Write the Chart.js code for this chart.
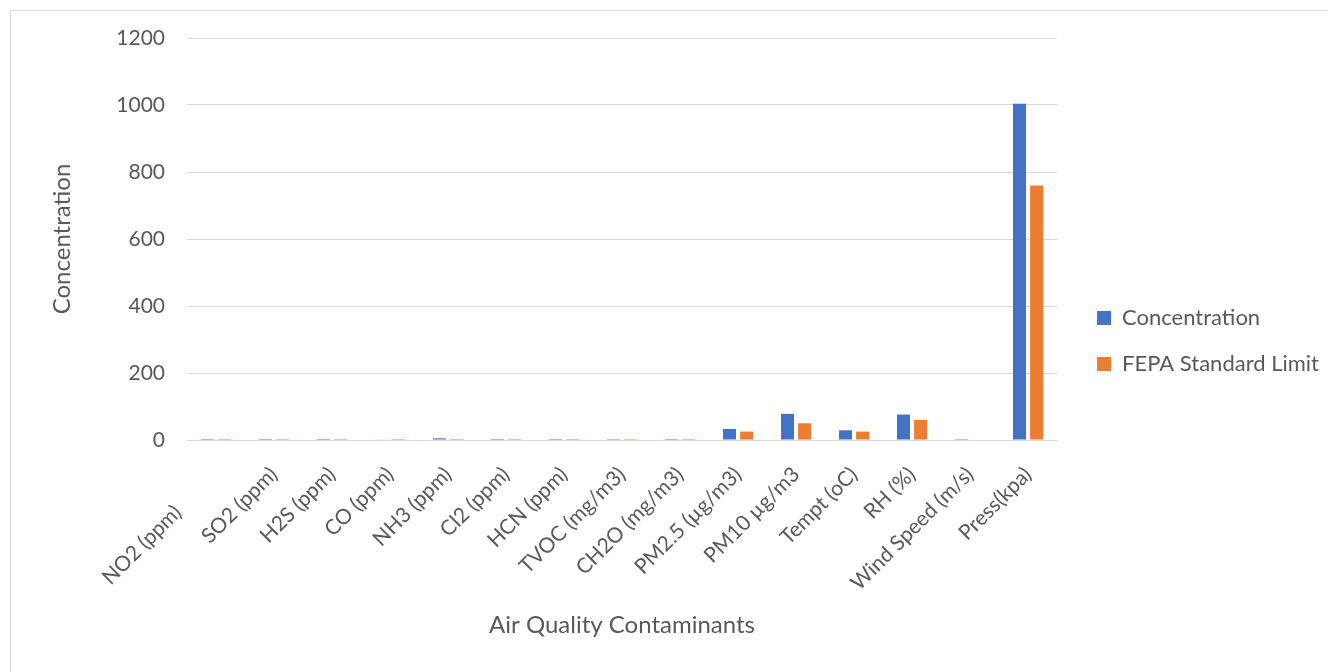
<!DOCTYPE html>
<html>
<head>
<meta charset="utf-8">
<script src="https://cdn.jsdelivr.net/npm/chart.js@4/dist/chart.umd.min.js"></script>
<style>
  html, body { margin: 0; padding: 0; background: #fff; }
  #wrap { position: relative; width: 1328px; height: 672px; }
  #frame { position: absolute; left: 10px; top: 10px; width: 1330px; height: 670px; border: 1px solid #d9d9d9; box-sizing: border-box; }
  canvas { position: absolute; left: 0; top: 0; }
</style>
</head>
<body>
<div id="wrap">
  <div id="frame"></div>
  <canvas id="c" width="1328" height="672"></canvas>
</div>
<script>
// Air quality readings against the FEPA limits
const categories = [
  'NO2 (ppm)', 'SO2 (ppm)', 'H2S (ppm)', 'CO (ppm)', 'NH3 (ppm)', 'Cl2 (ppm)',
  'HCN (ppm)', 'TVOC (mg/m3)', 'CH2O (mg/m3)', 'PM2.5 (µg/m3)', 'PM10 µg/m3',
  'Tempt (oC)', 'RH (%)', 'Wind Speed (m/s)', 'Press(kpa)'
];
const concentration = [0.04, 0.02, 0.01, 1.2, 5, 0.01, 0.01, 0.3, 0.02, 33, 78, 29, 76, 0.4, 1004];
const fepaLimit     = [0.04, 0.1, 0.1, 3, 3, 0.01, 0.01, 0.1, 0.03, 25, 50, 25, 60, 1.5, 760];
const yTicks = [0, 200, 400, 600, 800, 1000, 1200];

const textColor = '#595959';
const gridColor = '#d9d9d9';
const fontFamily = "Lato, 'Open Sans', sans-serif";

// Leave a wider gap between the plot and the legend entries
const legendGap = {
  id: 'legendGap',
  afterLayout(chart) {
    chart.legend.left += 16;
    chart.legend.right += 16;
  }
};

new Chart(document.getElementById('c'), {
  type: 'bar',
  data: {
    labels: categories,
    datasets: [
      { label: 'Concentration', data: concentration, backgroundColor: '#4472c4',
        categoryPercentage: 0.59, barPercentage: 0.76, inflateAmount: 0 },
      { label: 'FEPA Standard Limit', data: fepaLimit, backgroundColor: '#ed7d31',
        categoryPercentage: 0.59, barPercentage: 0.76, inflateAmount: 0 }
    ]
  },
  plugins: [legendGap],
  options: {
    responsive: false,
    animation: false,
    layout: { padding: { left: 10, top: 30, right: 15, bottom: 20 } },
    plugins: {
      tooltip: { enabled: false },
      legend: {
        position: 'right',
        labels: {
          color: textColor,
          font: { family: fontFamily, size: 22 },
          boxWidth: 14, boxHeight: 14, padding: 24
        }
      }
    },
    scales: {
      x: {
        grid: { display: false },
        border: { display: false },
        afterFit: (s) => { s.height = 212; s.paddingLeft = 0; s.paddingRight = 0; },
        ticks: {
          color: textColor,
          font: { family: fontFamily, size: 21 },
          maxRotation: 45, minRotation: 45, autoSkip: false, padding: 14,
          // the first label is slid down-left so it stays inside the frame
          callback: function (v, i) {
            const t = this.getLabelForValue(v);
            return i === 0 ? t + '          ' : t;
          }
        },
        title: {
          display: true, text: 'Air Quality Contaminants', color: textColor,
          font: { family: fontFamily, size: 24 }, padding: { top: 0, bottom: 12 }
        }
      },
      y: {
        min: 0, max: 1200,
        afterBuildTicks: (axis) => { axis.ticks = yTicks.map(v => ({ value: v })); },
        afterFit: (s) => { s.width = 177; s.paddingTop = 38; s.paddingBottom = 0; },
        grid: { color: gridColor, drawTicks: false, lineWidth: 1 },
        border: { display: false },
        ticks: {
          color: textColor, padding: 22,
          font: { family: fontFamily, size: 21 },
          callback: (v) => String(v)
        },
        title: {
          display: true, text: 'Concentration', color: textColor,
          font: { family: fontFamily, size: 24 }, padding: { top: 38, bottom: 0 }
        }
      }
    }
  }
});
</script>
</body>
</html>
